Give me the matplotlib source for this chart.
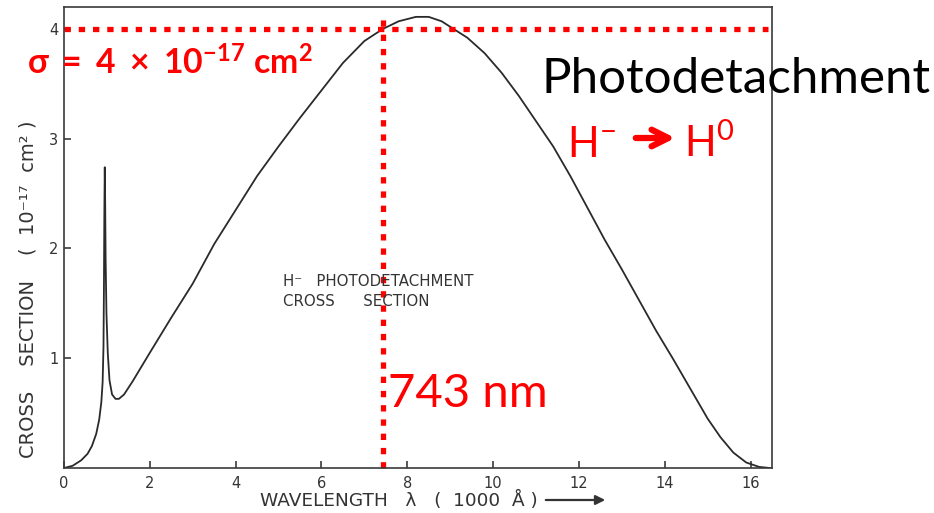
import numpy as np
import matplotlib.pyplot as plt

plt.rcParams['mathtext.fontset'] = 'custom'
plt.rcParams['mathtext.rm'] = 'Lato'
plt.rcParams['mathtext.bf'] = 'Lato:bold'
plt.rcParams['mathtext.it'] = 'Lato:italic'

# H- photodetachment cross section, wavelength in 1000 A, sigma in 1e-17 cm^2
wavelength = [0.0, 0.2, 0.4, 0.55, 0.65, 0.75, 0.82, 0.87, 0.90, 0.92, 0.93,
              0.94, 0.95, 0.96, 0.97, 0.99, 1.02, 1.06, 1.12, 1.20, 1.28,
              1.40, 1.60, 1.80, 2.0, 2.5, 3.0, 3.5, 4.0, 4.5, 5.0, 5.5, 6.0,
              6.5, 7.0, 7.43, 7.8, 8.2, 8.5, 8.8, 9.0, 9.4, 9.8, 10.2, 10.6,
              11.0, 11.4, 11.8, 12.2, 12.6, 13.0, 13.4, 13.8, 14.2, 14.6,
              15.0, 15.3, 15.6, 15.9, 16.2, 16.45]
sigma = [0.0, 0.02, 0.07, 0.13, 0.20, 0.31, 0.44, 0.60, 0.78, 1.10, 1.60,
         2.30, 2.74, 2.40, 1.90, 1.40, 1.05, 0.80, 0.67, 0.63, 0.63,
         0.67, 0.79, 0.92, 1.05, 1.37, 1.68, 2.04, 2.35, 2.66, 2.93, 3.19, 3.44,
         3.69, 3.89, 4.00, 4.07, 4.11, 4.11, 4.07, 4.02, 3.92, 3.78, 3.60, 3.39,
         3.16, 2.93, 2.66, 2.37, 2.08, 1.81, 1.53, 1.25, 0.99, 0.72,
         0.45, 0.28, 0.14, 0.05, 0.01, 0.0]

x_ticks = [0, 2, 4, 6, 8, 10, 12, 14, 16]
y_ticks = [1, 2, 3, 4]
y_tick_labels = ['1', '2', '3', '4']

sigma_mark = 4.0       # 1e-17 cm^2
lambda_mark = 7.43     # 743 nm

W, H = 934, 513


def px(x, y):
    # pixel position (from top-left) to figure fraction
    return x / W, 1 - y / H


fig = plt.figure(figsize=(W / 100, H / 100), dpi=100)
ax = fig.add_axes([64 / W, 1 - 468 / H, 708 / W, 461 / H])

ink = '#2a2a2a'
ax.plot(wavelength, sigma, color=ink, lw=1.3)
ax.set_xlim(0, 16.5)
ax.set_ylim(0, 4.2)
ax.set_xticks(x_ticks)
ax.set_yticks(y_ticks)
ax.set_yticklabels(y_tick_labels)
ax.tick_params(direction='in', length=5, width=1.1, colors=ink,
               labelsize=10.5, labelcolor='#333333')
ax.tick_params(axis='x', pad=6)
ax.tick_params(axis='y', pad=4)
for s in ax.spines.values():
    s.set_color('#3a3a3a')
    s.set_linewidth(1.2)

# red guide lines
red = '#ff0000'
dots = (0, (1.2, 1.5))
ax.plot([0, 16.4], [sigma_mark, sigma_mark], color=red, lw=3.8, ls=dots,
        solid_capstyle='butt', clip_on=False)
ax.plot([lambda_mark, lambda_mark], [0, 4.13], color=red, lw=3.8, ls=dots,
        clip_on=False)

# axis labels
fig.text(*px(28, 289), 'CROSS    SECTION    (  10\u207b\u00b9\u2077  cm\u00b2 )',
         rotation=90, ha='center', va='center', fontsize=14, color='#333333')
fig.text(*px(260, 500), 'WAVELENGTH   \u03bb   (  1000  \u00c5 )', ha='left',
         va='center', fontsize=13.3, color='#333333')
ax.annotate('', xy=px(608, 500), xytext=px(543, 500),
            xycoords='figure fraction', textcoords='figure fraction',
            arrowprops=dict(arrowstyle='-|>', color='#333333', lw=1.6,
                            mutation_scale=14))

ax.text(0.31, 0.382, 'H\u207b   PHOTODETACHMENT\nCROSS      SECTION',
        transform=ax.transAxes, fontsize=10.8, color='#333333',
        linespacing=1.4, va='center', ha='left')

# annotations
fig.text(*px(27, 75), r'$\mathbf{\sigma\ =\ 4\ \times\ 10^{-17}\ cm^{2}}$',
         color=red, fontsize=24.3, ha='left', va='baseline')
fig.text(*px(541, 93), 'Photodetachment', family='Lato', color='black',
         fontsize=35.5, ha='left', va='baseline')
fig.text(*px(567, 157), r'H$^{-}$', family='Lato', color=red,
         fontsize=30, ha='left', va='baseline')
ax.annotate('', xy=px(678, 138), xytext=px(633, 138),
            xycoords='figure fraction', textcoords='figure fraction',
            arrowprops=dict(arrowstyle='->', color=red, lw=4.5,
                            mutation_scale=30))
fig.text(*px(684, 157), r'H$^{0}$', family='Lato', color=red,
         fontsize=30, ha='left', va='baseline')
fig.text(*px(388, 407), '743 nm', family='Lato', color=red,
         fontsize=34, ha='left', va='baseline')

fig.savefig('out.png', dpi=100, facecolor='white')
